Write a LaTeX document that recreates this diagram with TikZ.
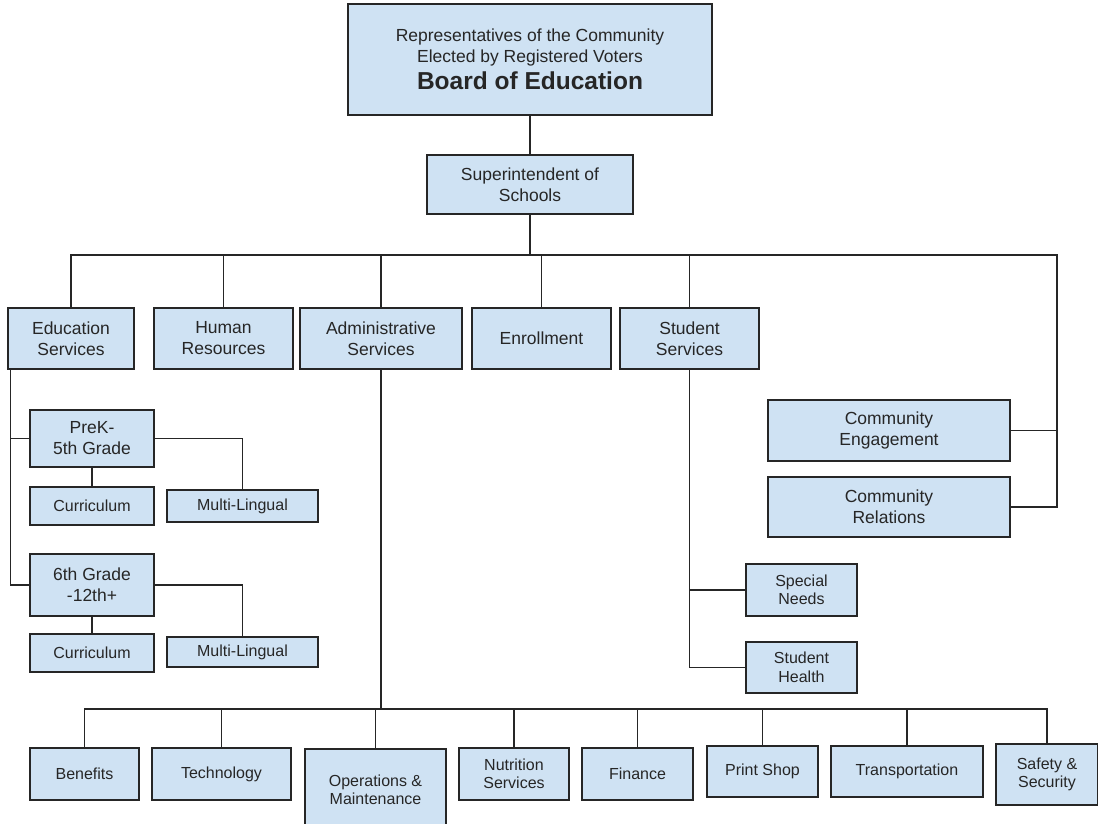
\documentclass[tikz,border=0pt]{standalone}
\usepackage{fontspec}
\setmainfont{Liberation Sans}
\usetikzlibrary{positioning}
\definecolor{boxblue}{HTML}{CFE2F3}
\definecolor{linegray}{HTML}{262626}

\begin{document}
\begin{tikzpicture}[x=1pt,y=-1pt,line width=1.3pt,draw=linegray]
  \tikzstyle{box}=[draw=linegray,fill=boxblue,text=black!85,inner sep=0pt,
                   align=center,font=\fontsize{17.5}{21}\selectfont]
  \tikzstyle{small}=[box,font=\fontsize{16}{18.5}\selectfont]

  \useasboundingbox (0,0) rectangle (1098,824);

  % top of the tree
  \node[box,minimum width=364,minimum height=111] (board) at (530,59.5)
    {Representatives of the Community\\Elected by Registered Voters\\[5pt]
     {\fontsize{24.5}{27}\selectfont\bfseries Board of Education}};
  \node[box,minimum width=206,minimum height=59] (super) at (530,184.5) {Superintendent of\\Schools};

  % departments
  \node[box,minimum width=126,minimum height=61] (edu)    at (71,338.5)    {Education\\Services};
  \node[box,minimum width=139,minimum height=61] (hr)     at (223.5,338.5) {Human\\Resources};
  \node[box,minimum width=162,minimum height=61] (admin)  at (381,338.5)   {Administrative\\Services};
  \node[box,minimum width=139,minimum height=61] (enroll) at (541.5,338.5) {Enrollment};
  \node[box,minimum width=139,minimum height=61] (stud)   at (689.5,338.5) {Student\\Services};

  % education services
  \node[box,minimum width=124,minimum height=57]   (prek)  at (92,438.5)  {PreK-\\5th Grade};
  \node[small,minimum width=124,minimum height=38] (cur1)  at (92,506)    {Curriculum};
  \node[small,minimum width=151,minimum height=32] (ml1)   at (242.5,506) {Multi-Lingual};
  \node[box,minimum width=124,minimum height=62]   (sixth) at (92,585)    {6th Grade\\-12th+};
  \node[small,minimum width=124,minimum height=38] (cur2)  at (92,653)    {Curriculum};
  \node[small,minimum width=151,minimum height=30] (ml2)   at (242.5,652) {Multi-Lingual};

  % community
  \node[box,minimum width=242,minimum height=61] (ce) at (889,430.5) {Community\\Engagement};
  \node[box,minimum width=242,minimum height=60] (cr) at (889,507)   {Community\\Relations};

  % student services
  \node[small,minimum width=111,minimum height=52] (sn) at (801.5,590)   {Special\\Needs};
  \node[small,minimum width=111,minimum height=51] (sh) at (801.5,667.5) {Student\\Health};

  % administrative services
  \node[small,minimum width=109,minimum height=52] (ben)   at (84.5,774)   {Benefits};
  \node[small,minimum width=139,minimum height=52] (tech)  at (221.5,774)  {Technology};
  \node[small,minimum width=141,minimum height=82] (ops)   at (375.5,790)  {Operations \&\\Maintenance};
  \node[small,minimum width=110,minimum height=52] (nutr)  at (514,774)    {Nutrition\\Services};
  \node[small,minimum width=111,minimum height=52] (fin)   at (637.5,774)  {Finance};
  \node[small,minimum width=111,minimum height=51] (print) at (762.5,771.5) {Print Shop};
  \node[small,minimum width=152,minimum height=51] (trans) at (907,771.5)  {Transportation};
  \node[small,minimum width=102,minimum height=61] (safe)  at (1047,774.5) {Safety \&\\Security};

  % connectors
  \coordinate (rtop) at (1057,255);
  \coordinate (bbus) at (1047,709);

  \draw (board) -- (super);
  \draw (super.south) -- (super.south |- rtop);
  \draw (edu.north) |- (rtop) |- (cr.east);
  \draw (ce.east) -- (ce.east -| rtop);
  \foreach \n in {hr,admin,enroll,stud}
    \draw (\n.north) -- (\n.north |- rtop);

  \draw ([xshift=3pt]edu.south west) |- (prek.west);
  \draw ([xshift=3pt]edu.south west) |- (sixth.west);
  \draw (prek) -- (cur1);
  \draw (prek.east) -| (ml1.north);
  \draw (sixth) -- (cur2);
  \draw (sixth.east) -| (ml2.north);

  \draw (stud.south) |- (sn.west);
  \draw (stud.south) |- (sh.west);

  \draw (admin.south) -- (admin.south |- bbus);
  \draw (ben.north) |- (bbus) -- (safe.north);
  \foreach \n in {tech,ops,nutr,fin,print,trans}
    \draw (\n.north) -- (\n.north |- bbus);
\end{tikzpicture}
\end{document}
